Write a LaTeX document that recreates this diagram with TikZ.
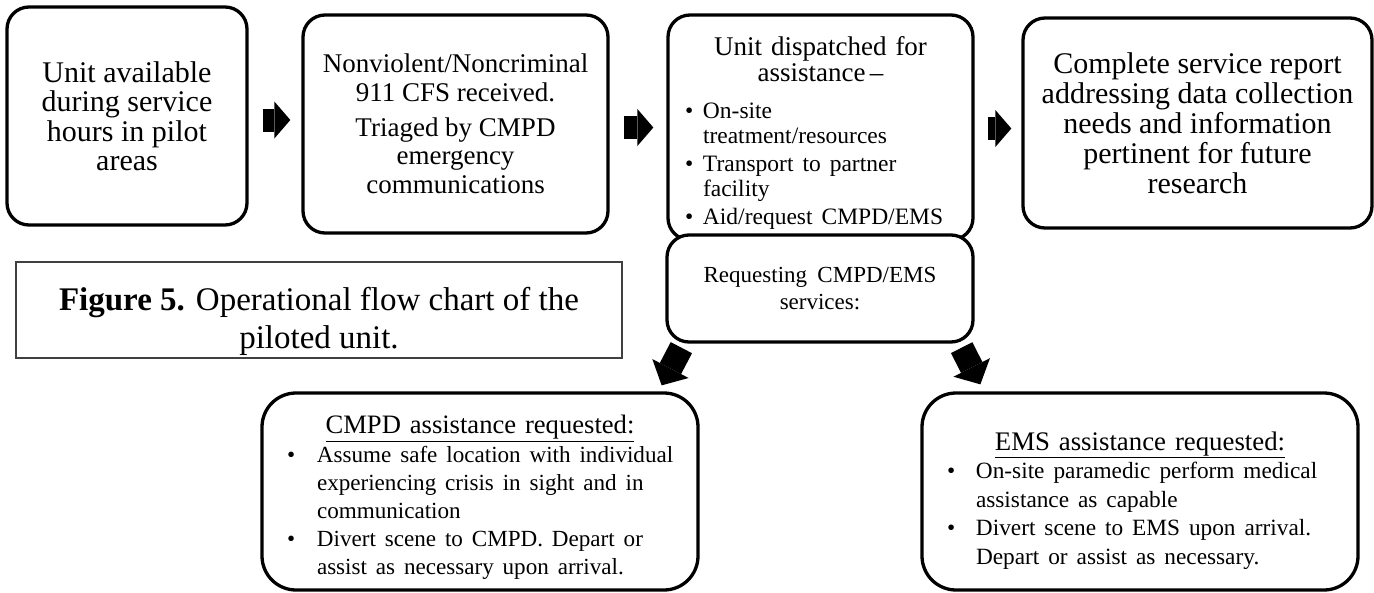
\documentclass[tikz,border=0pt]{standalone}
\usepackage{fontspec}
\setmainfont{Liberation Serif}
\usetikzlibrary{arrows.meta,calc}
\newcommand{\fs}[2]{\fontsize{#1}{#2}\selectfont}
\newcommand{\bul}[1]{\makebox[#1][l]{\textbullet}}
\newcommand{\topgap}[1]{\rule{0pt}{#1}}
\tikzset{
  rbox/.style={draw, line width=3.3pt, rounded corners=22pt, fill=white,
               inner sep=0pt, align=center},
  lowbox/.style={rbox, rounded corners=34pt},
  capbox/.style={draw=black!75, line width=1.4pt, inner sep=0pt, align=center},
  blockarrow/.style={line width=23pt,
               -{Triangle[length=16pt,width=37pt,line width=0pt]}},
  diagarrow/.style={line width=24pt,
               -{Triangle[length=19pt,width=41pt,line width=0pt]}},
}
\begin{document}
\begin{tikzpicture}[x=1pt,y=-1pt]
\useasboundingbox (0,0) rectangle (1374,592);

% top row of steps
\node[rbox, minimum width=240pt, minimum height=218pt, font=\fs{30}{29.5}] (b1) at (127,116)
  {Unit available\\during service\\hours in pilot\\areas};

\node[rbox, minimum width=305pt, minimum height=218pt, font=\fs{27}{28.5}] (b2) at (455.5,124)
  {Nonviolent/Noncriminal\\911 CFS received.\\[6.5pt]Triaged by CMPD\\emergency\\communications};

\node[rbox, minimum width=305pt, minimum height=225pt, text width=285pt, font=\fs{27}{26}] (b3) at (820.5,127.5)
  {\topgap{32pt}Unit dispatched for\\assistance\,–\par
   \vspace{12pt}%
   \noindent\raggedright\fs{23.5}{25}\hspace*{7pt}%
   \begin{tabular}[t]{@{}l@{}l@{}}
     \bul{18pt} & On-site\\
                & treatment/resources\\[3pt]
     \bul{18pt} & Transport to partner\\
                & facility\\[3pt]
     \bul{18pt} & Aid/request CMPD/EMS
   \end{tabular}\par};

\node[rbox, minimum width=306pt, minimum height=107pt, font=\fs{23}{27}] (b4) at (820,288.5)
  {Requesting\hspace{0.45em}CMPD/EMS\\services:};

\node[rbox, minimum width=349pt, minimum height=210pt, font=\fs{30}{30}] (b5) at (1197.5,123)
  {Complete service report\\addressing data collection\\needs and information\\pertinent for future\\research};

% caption
\node[capbox, minimum width=606pt, minimum height=96pt, font=\fs{33}{38}] (cap) at (319,310)
  {\topgap{47pt}\textbf{Figure 5.} Operational flow chart of the\\piloted unit.};

% lower branches
\node[lowbox, minimum width=436pt, minimum height=197pt, text width=422pt, font=\fs{26.6}{28}] (cmpd) at (480,491.5)
  {\topgap{34pt}\underline{CMPD assistance requested:}\par
   \vspace{1pt}%
   \noindent\raggedright\fs{23.1}{28}\hspace*{18pt}%
   \begin{tabular}[t]{@{}l@{}l@{}}
     \bul{30pt} & Assume safe location with individual\\
                & experiencing crisis in sight and in\\
                & communication\\
     \bul{30pt} & Divert scene to CMPD. Depart or\\
                & assist as necessary upon arrival.
   \end{tabular}\par};

\node[lowbox, minimum width=436pt, minimum height=197pt, text width=422pt, font=\fs{26.8}{28}] (ems) at (1140,491.5)
  {\topgap{40pt}\underline{EMS assistance requested:}\par
   \noindent\raggedright\fs{23.3}{28.5}\hspace*{18pt}%
   \begin{tabular}[t]{@{}l@{}l@{}}
     \bul{29pt} & On-site paramedic perform medical\\
                & assistance as capable\\
     \bul{29pt} & Divert scene to EMS upon arrival.\\
                & Depart or assist as necessary.
   \end{tabular}\par};

% block arrows between the steps
\draw[blockarrow] ([xshift=14pt,yshift=-4pt]b1.east) -- ([xshift=-11pt,yshift=4pt]b2.west);
\draw[blockarrow] ([xshift=14pt,yshift=-3.5pt]b2.east) -- ([xshift=-13pt]b3.west);
\draw[blockarrow] ([xshift=13pt,yshift=-1pt]b3.east) -- ([xshift=-10pt,yshift=-5.5pt]b5.west);
\draw[diagarrow] ($(b4.south west)+(16,4)$) -- ($(cmpd.north east)+(-38,-6)$);
\draw[diagarrow] ($(b4.south east)+(-13,4)$) -- ($(ems.north west)+(60,-7)$);
\end{tikzpicture}
\end{document}
